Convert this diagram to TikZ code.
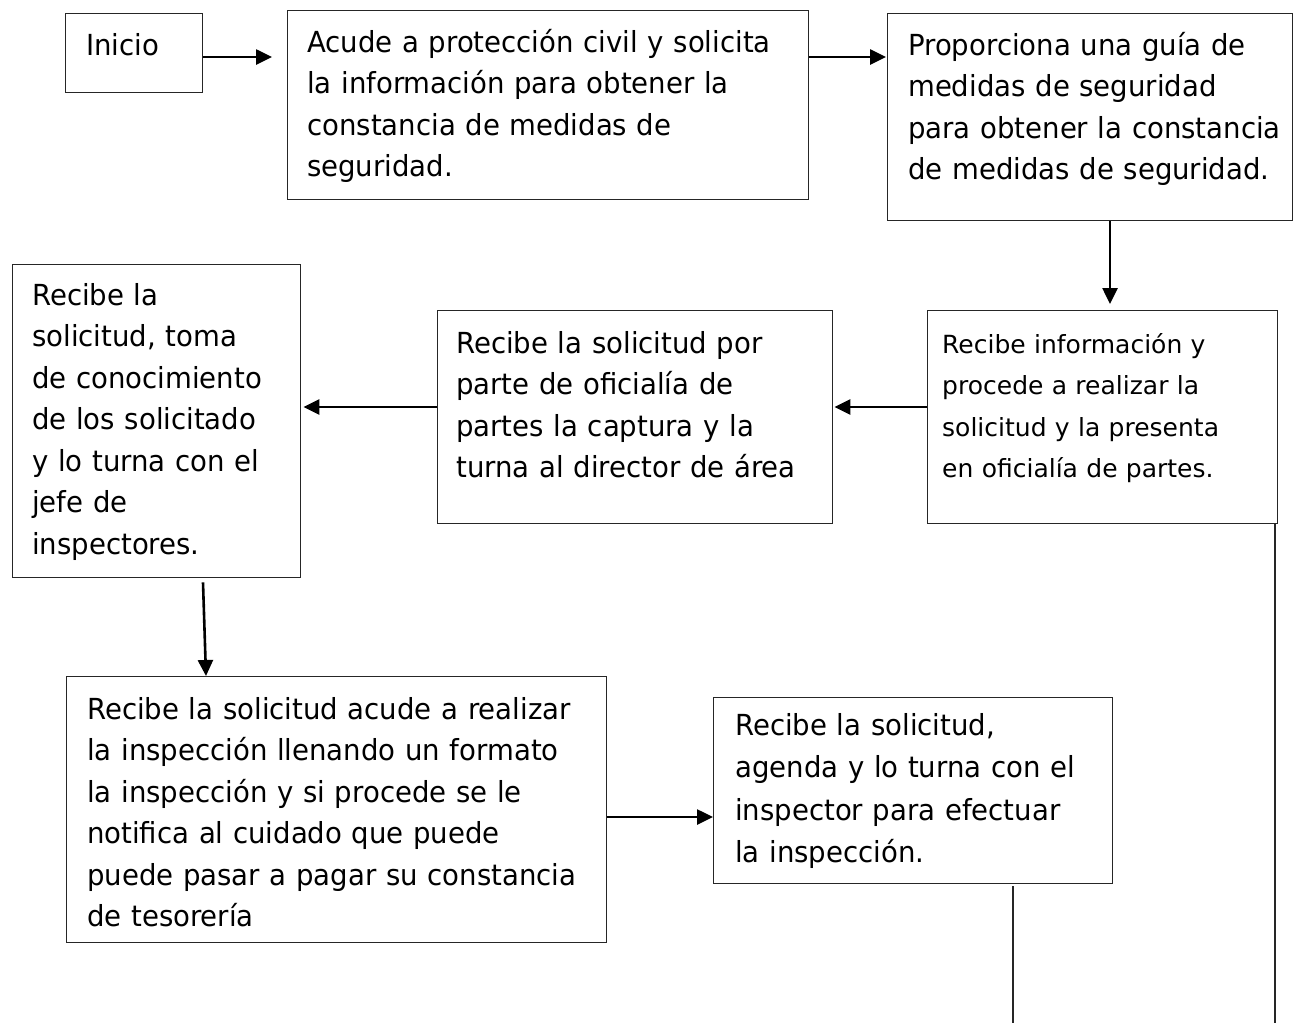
\documentclass[tikz,border=0pt]{standalone}
\usepackage{fontspec}
\setmainfont{DejaVu Sans}[FakeStretch=0.95]
\newfontfamily\smallfnt{DejaVu Sans}
\usetikzlibrary{arrows.meta,calc}
\tikzset{
  box/.style={draw=black!85, line width=1.4pt, rectangle, inner sep=0pt, anchor=north west, fill=none},
  txt/.style={anchor=base west, inner sep=0pt, text width=700pt, align=left, font=\fontsize{29}{41.5}\selectfont},
  smalltxt/.style={txt, font=\smallfnt\fontsize{25}{41.5}\selectfont},
  arr/.style={line width=2.6pt, -{Triangle[length=16pt,width=15pt]}},
  plainline/.style={line width=1.5pt, draw=black!85}
}
\begin{document}
\begin{tikzpicture}[x=1pt,y=-1pt]
\useasboundingbox (0,0) rectangle (1293,1023);
% boxes
\node[box, minimum width=137pt, minimum height=79pt] (b1) at (65,13) {};
\node[box, minimum width=521pt, minimum height=189pt] (b2) at (287,10) {};
\node[box, minimum width=405pt, minimum height=207pt] (b3) at (887,13) {};
\node[box, minimum width=350pt, minimum height=213pt] (b4) at (927,310) {};
\node[box, minimum width=395pt, minimum height=213pt] (b5) at (437,310) {};
\node[box, minimum width=288pt, minimum height=313pt] (b6) at (12,264) {};
\node[box, minimum width=540pt, minimum height=266pt] (b7) at (66,676) {};
\node[box, minimum width=399pt, minimum height=186pt] (b8) at (713,697) {};
% texts
\node[txt] (t1) at (86,55) {Inicio};
\node[txt] (t2) at (307,52) {Acude a protección civil y solicita\\la información para obtener la\\constancia de medidas de\\seguridad.};
\node[txt] (t3) at (908,55) {Proporciona una guía de\\medidas de seguridad\\para obtener la constancia\\de medidas de seguridad.};
\node[smalltxt] (t4) at (942,353) {Recibe información y\\procede a realizar la\\solicitud y la presenta\\en oficialía de partes.};
\node[txt] (t5) at (456,353) {Recibe la solicitud por\\parte de oficialía de\\partes la captura y la\\turna al director de área};
\node[txt] (t6) at (32,305) {Recibe la\\solicitud, toma\\de conocimiento\\de los solicitado\\y lo turna con el\\jefe de\\inspectores.};
\node[txt] (t7) at (87,719) {Recibe la solicitud acude a realizar\\la inspección llenando un formato\\la inspección y si procede se le\\notifica al cuidado que puede\\puede pasar a pagar su constancia\\de tesorería};
\node[txt, font=\fontsize{29}{42.5}\selectfont] (t8) at (735,735) {Recibe la solicitud,\\agenda y lo turna con el\\inspector para efectuar\\la inspección.};
% connectors
\draw[arr] ($(b1.north east)+(0,44)$) -- ($(b2.north west)+(-15,47)$);
\draw[arr] ($(b2.north east)+(0,47)$) -- ($(b3.north west)+(-1,44)$);
\draw[arr] ($(b3.south west)+(223,0)$) -- ($(b4.north west)+(183,-6)$);
\draw[arr] ($(b4.north west)+(0,97)$) -- ($(b5.north east)+(1,97)$);
\draw[arr] ($(b5.north west)+(0,97)$) -- ($(b6.north east)+(2,143)$);
\draw[arr] ($(b6.south west)+(191,4)$) -- ($(b7.north west)+(140,0)$);
\draw[arr] ($(b7.north east)+(0,141)$) -- ($(b8.north west)+(0,120)$);
\coordinate (e1) at (1013,1023);
\coordinate (e2) at (1275,1023);
\draw[plainline] ($(b8.south west)+(300,2)$) -- (e1);
\draw[plainline] (e2 |- b4.south) -- (e2);
\end{tikzpicture}
\end{document}
